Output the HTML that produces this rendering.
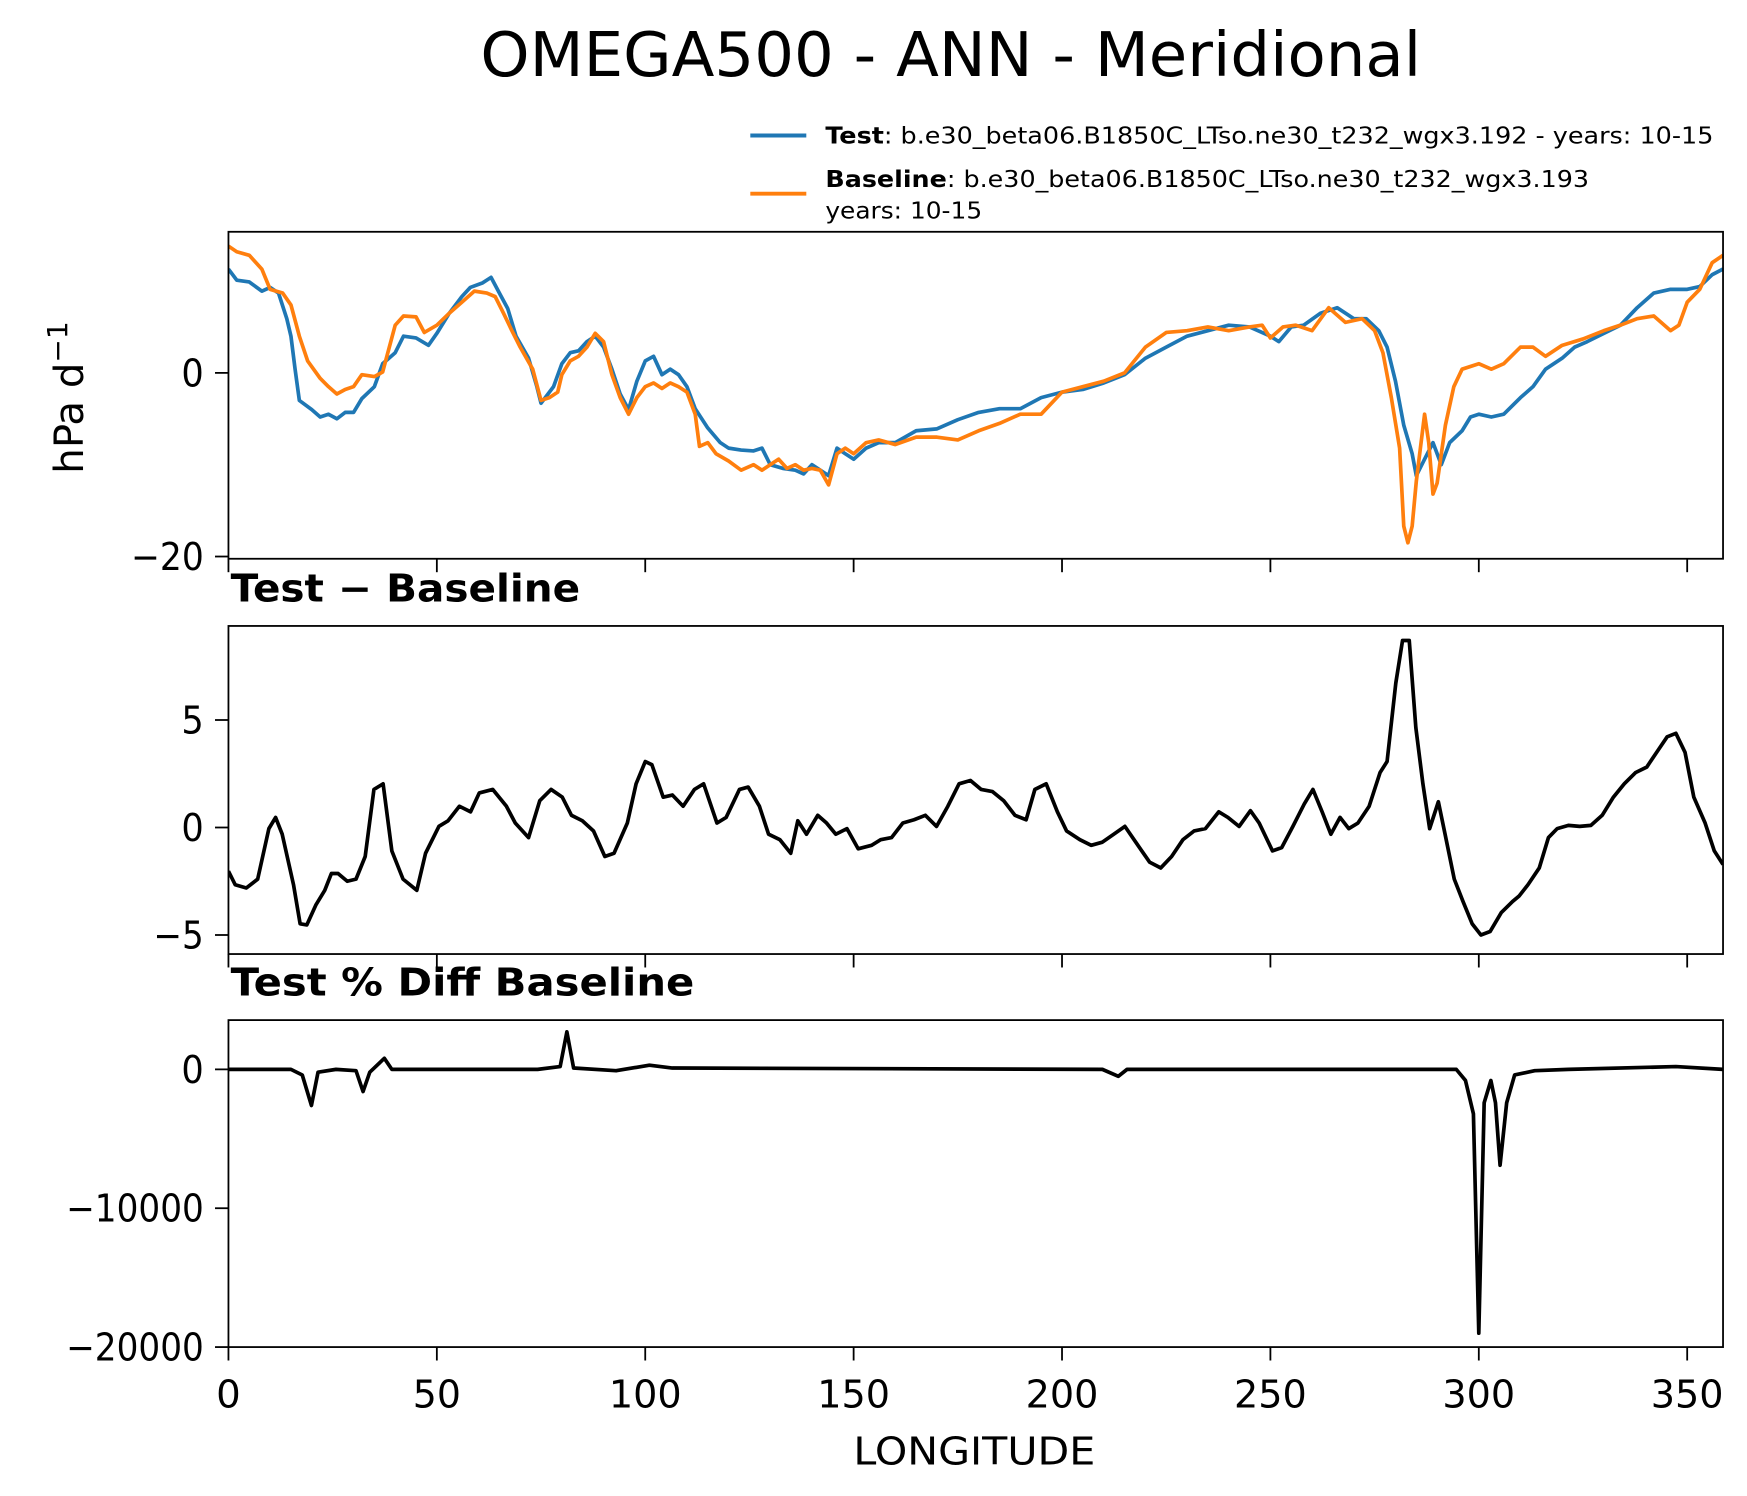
<!DOCTYPE html>
<html><head><meta charset="utf-8"><style>
html,body{margin:0;padding:0;background:#fff;}
svg{display:block;}
text{font-family:"DejaVu Sans","Liberation Sans",sans-serif;}
</style></head><body>
<svg id="chart" width="1747" height="1496" viewBox="0 0 1560 1336" preserveAspectRatio="none" xmlns="http://www.w3.org/2000/svg">
<rect width="1560" height="1336" fill="#fff"/>
<text x="849" y="68" font-size="55" text-anchor="middle" textLength="840" lengthAdjust="spacingAndGlyphs">OMEGA500 - ANN - Meridional</text>
<g>
 <line x1="670" y1="121" x2="720" y2="121" stroke="#1f77b4" stroke-width="3.5"/>
 <text x="737" y="128" font-size="21" textLength="793" lengthAdjust="spacingAndGlyphs"><tspan font-weight="bold">Test</tspan>: b.e30_beta06.B1850C_LTso.ne30_t232_wgx3.192 - years: 10-15</text>
 <line x1="670" y1="173" x2="720" y2="173" stroke="#ff7f0e" stroke-width="3.5"/>
 <text x="737" y="167" font-size="21" textLength="682" lengthAdjust="spacingAndGlyphs"><tspan font-weight="bold">Baseline</tspan>: b.e30_beta06.B1850C_LTso.ne30_t232_wgx3.193</text>
 <text x="737" y="195" font-size="21" textLength="140" lengthAdjust="spacingAndGlyphs">years: 10-15</text>
</g>
<text transform="translate(74,355) rotate(-90)" font-size="36" text-anchor="middle">hPa d<tspan dy="-14" font-size="25">−1</tspan></text>
<text x="206" y="537" font-size="34" font-weight="bold" textLength="312" lengthAdjust="spacingAndGlyphs">Test − Baseline</text>
<text x="206" y="889" font-size="34" font-weight="bold" textLength="414" lengthAdjust="spacingAndGlyphs">Test % Diff Baseline</text>
<text x="870" y="1308" font-size="34" text-anchor="middle" textLength="216" lengthAdjust="spacingAndGlyphs">LONGITUDE</text>
<g id="plots"></g>
</svg>
<script>
const xTicks = [0,50,100,150,200,250,300,350];
const topTicks = [0,-20];
const diffTicks = [5,0,-5];
const pctTicks = [0,-10000,-20000];
const pctTickLabels = ["0","−10000","−20000"];

const testLon = [0,2,5,8,10,12,14,15,16,17,20,22,24,26,28,30,32,35,37,40,42,45,48,50,53,56,58,61,63,65,67,69,72,74,75,78,80,82,84,86,88,90,92,94,96,98,100,102,104,106,108,110,112,115,118,120,123,126,128,130,133,136,138,140,142,144,146,148,150,153,156,160,165,170,175,180,185,190,195,200,205,210,215,220,225,230,235,240,245,250,252,255,258,262,266,270,273,276,278,280,282,284,285,287,289,291,293,296,298,300,303,306,310,313,316,320,323,326,330,334,338,342,346,350,353,356,358.6];
const testVal = [11.3,10.1,9.9,8.9,9.3,8.7,5.9,4,0.4,-3,-4,-4.8,-4.5,-5,-4.3,-4.3,-2.8,-1.5,1,2.2,4,3.8,3,4.3,6.5,8.3,9.3,9.8,10.4,8.7,7,4,1.6,-1.5,-3.3,-1.5,1,2.2,2.4,3.4,4,2.8,0.4,-2.3,-4,-0.9,1.3,1.8,-0.2,0.4,-0.2,-1.5,-3.9,-6,-7.6,-8.2,-8.4,-8.5,-8.2,-10,-10.4,-10.6,-11,-10,-10.6,-11.2,-8.2,-8.8,-9.4,-8.2,-7.6,-7.6,-6.3,-6.1,-5.1,-4.3,-3.9,-3.9,-2.7,-2.1,-1.8,-1.1,-0.2,1.6,2.8,4,4.6,5.2,5,4,3.4,5,5.2,6.5,7.1,5.9,5.9,4.6,2.8,-0.9,-5.7,-8.8,-11.2,-9.4,-7.6,-10,-7.6,-6.3,-4.8,-4.5,-4.8,-4.5,-2.7,-1.5,0.4,1.6,2.8,3.4,4.3,5.2,7.1,8.7,9.1,9.1,9.4,10.7,11.3];

const baseLon = [0,2,5,8,10,13,15,17,19,22,24,26,28,30,32,35,37,40,42,45,47,50,53,56,59,62,64,66,68,70,73,75,77,79,80,82,84,86,88,90,92,94,96,98,100,102,104,106,108,110,112,113,115,117,120,123,126,128,130,132,134,136,138,140,142,144,146,148,150,153,156,160,165,170,175,180,185,190,195,200,205,210,215,220,225,230,235,240,245,248,250,253,256,260,264,268,272,275,277,279,281,282,283,284,285,287,288,289,290,292,294,296,300,303,306,310,313,316,320,325,330,334,338,342,346,348,350,353,356,358.6];
const baseVal = [13.8,13.2,12.8,11.3,9.1,8.7,7.4,4,1.3,-0.6,-1.5,-2.3,-1.8,-1.5,-0.2,-0.4,0.1,5.2,6.2,6.1,4.4,5.2,6.5,7.7,8.9,8.7,8.3,6.5,4.6,2.8,0.4,-3,-2.7,-2.1,-0.2,1.3,1.8,2.8,4.3,3.4,-0.2,-2.7,-4.5,-2.7,-1.5,-1.1,-1.7,-1.1,-1.5,-2.1,-4.5,-8,-7.6,-8.8,-9.6,-10.6,-10,-10.6,-10,-9.4,-10.4,-10,-10.6,-10.4,-10.6,-12.2,-8.8,-8.2,-8.8,-7.6,-7.3,-7.8,-7,-7,-7.3,-6.3,-5.5,-4.5,-4.5,-2.1,-1.5,-0.9,0,2.8,4.4,4.6,5,4.6,5,5.2,3.8,5,5.2,4.6,7.1,5.5,5.9,4.6,2.2,-2.7,-8.2,-16.7,-18.5,-16.7,-11.8,-4.5,-7.6,-13.2,-12,-5.7,-1.5,0.4,1,0.4,1,2.8,2.8,1.8,3,3.7,4.6,5.2,5.9,6.2,4.6,5.2,7.7,9.1,12,12.8];

const diffLon = [0,1.6,4.3,7,9.7,11.3,12.9,15.6,17.2,18.8,21,23.1,24.7,26.3,28.5,30.6,32.8,34.9,37.1,39.2,41.9,45.2,47.3,50.5,52.7,55.4,58.1,60.2,63.4,66.7,68.8,72,74.7,77.4,80.1,82.3,84.9,87.6,90.3,92.5,95.7,97.8,100,101.6,104.3,106.5,109.1,111.8,114,117.2,119.4,122.6,124.7,127.4,129.6,132.3,134.9,136.6,138.7,141.4,143.5,145.7,148.4,151.1,154.3,156.5,159.1,161.8,164.5,167.2,169.9,172.6,175.3,178,180.6,183.3,186,188.7,191.4,193.5,196.2,198.9,201.1,204.3,207,209.7,212.4,215.1,217.7,221,223.7,226.3,229,231.7,234.4,237.6,239.8,242.5,245.2,247.3,250.5,252.7,255.4,258.1,260.2,262.4,264.5,266.7,268.8,271,273.7,276.3,278,280.1,281.7,283.3,284.9,286.6,288.2,290.3,291.9,294.1,296.2,298.4,300.5,302.7,305.4,308.1,309.7,311.8,314.5,316.7,318.8,321.5,324.2,326.9,329.6,332.3,334.9,337.6,340.3,343,345.2,347.3,349.5,351.6,354.3,356.5,358.6];
const diffVal = [-2.03,-2.66,-2.81,-2.4,-0.05,0.47,-0.31,-2.66,-4.48,-4.53,-3.59,-2.92,-2.14,-2.14,-2.5,-2.4,-1.35,1.77,2.03,-1.09,-2.4,-2.92,-1.2,0.05,0.31,0.99,0.73,1.61,1.77,0.99,0.21,-0.47,1.25,1.77,1.41,0.57,0.31,-0.16,-1.35,-1.2,0.21,2.03,3.07,2.92,1.41,1.51,0.99,1.77,2.03,0.21,0.47,1.77,1.88,0.99,-0.31,-0.57,-1.2,0.31,-0.31,0.57,0.21,-0.31,-0.05,-0.99,-0.83,-0.57,-0.47,0.21,0.36,0.57,0.05,0.99,2.03,2.19,1.77,1.67,1.25,0.57,0.36,1.77,2.03,0.73,-0.16,-0.57,-0.83,-0.68,-0.31,0.05,-0.68,-1.61,-1.88,-1.35,-0.57,-0.16,-0.05,0.73,0.47,0.05,0.78,0.21,-1.09,-0.94,0.05,1.09,1.77,0.73,-0.31,0.47,-0.05,0.21,0.99,2.55,3.07,6.72,8.7,8.7,4.64,2.03,-0.05,1.2,-0.31,-2.4,-3.44,-4.48,-5,-4.84,-3.96,-3.44,-3.18,-2.66,-1.88,-0.47,-0.05,0.1,0.05,0.1,0.57,1.41,2.03,2.55,2.81,3.59,4.22,4.38,3.49,1.41,0.21,-1.09,-1.72];

const pctLon = [0,15,17.7,19.9,21.5,25.8,30.6,32.3,33.9,37.4,39.2,74.2,79.6,81.2,82.8,93,101,106.5,209.7,213.5,215.6,294.6,296.8,298.7,300,301.3,302.9,304,305.1,306.7,308.6,313.4,321.5,347.3,358.6];
const pctVal = [0,0,-400,-2600,-200,0,-100,-1600,-200,800,0,0,200,2700,100,-100,300,100,0,-500,0,0,-800,-3200,-19000,-2400,-800,-2400,-6900,-2400,-400,-100,0,200,0];

const NS = "http://www.w3.org/2000/svg";
const plots = document.getElementById('plots');
const X0 = 204, XR = 1538.6, LONMAX = 358.6;
const xs = lon => X0 + lon * (XR - X0) / LONMAX;
function mk(tag, attrs){ const e=document.createElementNS(NS,tag); for(const k in attrs) e.setAttribute(k,attrs[k]); return e; }

function panel(name, top, bottom, yfun, ticks, tickLabels, showXLabels){
  const g = mk('g',{});
  
  
  plots.appendChild(g);
  ticks.forEach((t,i)=>{
    const y=yfun(t);
    const tl = mk('line',{x1:X0-12,x2:X0,y1:y,y2:y,stroke:'#000','stroke-width':1.6});
    
    
    g.appendChild(tl);
    const lab = tickLabels ? tickLabels[i] : String(t).replace('-','−');
    const tx = mk('text',{x:X0-22,y:y+12,'font-size':34,'text-anchor':'end'});
    tx.setAttribute('textLength', (lab.length*19.5 + (lab[0]==='−'?6:0)).toFixed(0));
    tx.setAttribute('lengthAdjust','spacingAndGlyphs');
    tx.textContent = lab;
    
    
    g.appendChild(tx);
  });
  xTicks.forEach(t=>{
    const x=xs(t);
    const tl = mk('line',{x1:x,x2:x,y1:bottom,y2:bottom+12,stroke:'#000','stroke-width':1.6});
    
    
    g.appendChild(tl);
    if(showXLabels){
      const lab = String(t);
      const tx = mk('text',{x:x,y:bottom+54,'font-size':34,'text-anchor':'middle'});
      tx.setAttribute('textLength', (lab.length*21.5).toFixed(0));
      tx.setAttribute('lengthAdjust','spacingAndGlyphs');
      tx.textContent = lab;
      
      
      g.appendChild(tx);
    }
  });
  return g;
}
function series(g, name, lons, vals, yfun, color, top, bottom){
  const clipId = name+'-clip';
  const cp = mk('clipPath',{id:clipId}); cp.appendChild(mk('rect',{x:X0,y:top,width:XR-X0,height:bottom-top}));
  g.appendChild(cp);
  const d = lons.map((l,i)=>(i?'L':'M')+xs(l).toFixed(1)+','+yfun(vals[i]).toFixed(1)).join(' ');
  const p = mk('path',{d:d,fill:'none',stroke:color,'stroke-width':3.3,'stroke-linejoin':'round','clip-path':'url(#'+clipId+')'});
  
  
  g.appendChild(p);
}
function frame(g,name,top,bottom){
  const r = mk('rect',{x:X0,y:top,width:XR-X0,height:bottom-top,fill:'none',stroke:'#000','stroke-width':1.6});
  
  
  g.appendChild(r);
}

const yTop = v => 333 - v*8.2;
const g1 = panel('main-panel',207,499,yTop,topTicks,null,false);
series(g1,'test-line',testLon,testVal,yTop,'#1f77b4',207,499);
series(g1,'baseline-line',baseLon,baseVal,yTop,'#ff7f0e',207,499);
frame(g1,'main-panel',207,499);

const yDiff = v => 739 - v*19.2;
const g2 = panel('diff-panel',559,852,yDiff,diffTicks,null,false);
series(g2,'diff-line',diffLon,diffVal,yDiff,'#000',559,852);
frame(g2,'diff-panel',559,852);

const yPct = v => 955 - v*0.0124;
const g3 = panel('pctdiff-panel',911,1203,yPct,pctTicks,pctTickLabels,true);
series(g3,'pctdiff-line',pctLon,pctVal,yPct,'#000',911,1203);
frame(g3,'pctdiff-panel',911,1203);
</script>
</body></html>
